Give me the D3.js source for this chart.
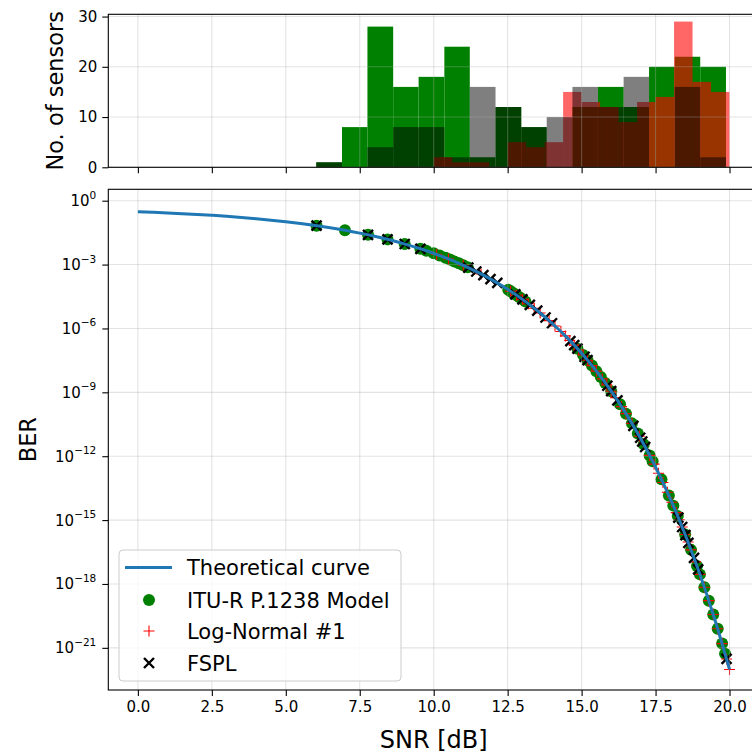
<!DOCTYPE html>
<html>
<head>
<meta charset="utf-8">
<script src="https://cdn.jsdelivr.net/npm/d3@7"></script>
<style>
  body { margin: 0; background: #fff; }
  text { font-family: "DejaVu Sans", sans-serif; fill: #000; }
</style>
</head>
<body>
<svg id="chart" width="752" height="756"></svg>
<script>
// ---------------- data ----------------
// Theoretical BER curve, sampled every 0.5 dB (log10 of BER)
const theorySnr = [0, 0.5, 1, 1.5, 2, 2.5, 3, 3.5, 4, 4.5, 5, 5.5, 6, 6.5, 7, 7.5, 8, 8.5, 9, 9.5,
  10, 10.5, 11, 11.5, 12, 12.5, 13, 13.5, 14, 14.5, 15, 15.5, 16, 16.5, 17, 17.5, 18, 18.5, 19, 19.5, 20];
const theoryLogBer = [-0.518, -0.545, -0.574, -0.608, -0.645, -0.687, -0.734, -0.787, -0.846, -0.913,
  -0.988, -1.071, -1.166, -1.271, -1.389, -1.522, -1.671, -1.838, -2.026, -2.236,
  -2.472, -2.737, -3.035, -3.368, -3.743, -4.163, -4.634, -5.162, -5.756, -6.421,
  -7.168, -8.006, -8.946, -10.001, -11.184, -12.512, -14.002, -15.674, -17.550, -19.655, -22.015];

// ITU-R P.1238 sensors: SNR [dB] and log10(BER)
const ituSnr = [6.04, 7.0, 7.78, 8.44, 9.02, 9.55, 9.75, 10.0, 10.2, 10.4, 10.55, 10.7, 10.85, 11.0, 11.15,
  12.52, 12.6, 12.7, 12.8, 12.9, 13.0, 13.1, 14.86, 15.05, 15.2, 15.35, 15.5, 15.65, 15.8, 16.0,
  16.3, 16.5, 16.7, 16.9, 17.1, 17.3, 17.4, 17.7, 17.95, 18.1, 18.25, 18.5, 18.7, 18.9, 19.0,
  19.15, 19.3, 19.45, 19.6, 19.75, 19.85];
const ituLogBer = [-1.174, -1.389, -1.603, -1.817, -2.034, -2.259, -2.351, -2.472, -2.575, -2.682, -2.766, -2.852, -2.942, -3.035, -3.131,
  -4.180, -4.253, -4.345, -4.439, -4.535, -4.634, -4.735, -6.950, -7.247, -7.491, -7.744, -8.006, -8.276, -8.557, -8.946,
  -9.564, -10.001, -10.458, -10.937, -11.438, -11.963, -12.234, -13.088, -13.845, -14.321, -14.814, -15.674, -16.399, -17.157, -17.550,
  -18.156, -18.784, -19.433, -20.105, -20.801, -21.279];

// Log-Normal #1 sensors
const logNormalSnr = [10.1, 10.5, 11.0, 11.6, 12.6, 12.8, 13.0, 13.2, 13.4, 13.6, 13.9, 14.1, 14.3, 14.45, 14.6,
  14.75, 14.9, 15.05, 15.2, 15.35, 15.5, 15.7, 15.85, 16.0, 16.15, 16.35, 16.5, 16.7, 16.95, 17.1,
  17.3, 17.45, 17.6, 17.75, 17.9, 18.05, 18.2, 18.3, 18.4, 18.5, 18.6, 18.7, 18.85, 19.0, 19.15,
  19.3, 19.45, 19.6, 19.75, 19.9, 20.0];
const logNormalLogBer = [-2.523, -2.737, -3.035, -3.440, -4.253, -4.439, -4.634, -4.838, -5.052, -5.276, -5.631, -5.883, -6.146, -6.351, -6.564,
  -6.784, -7.012, -7.247, -7.491, -7.744, -8.006, -8.369, -8.652, -8.946, -9.250, -9.671, -10.001, -10.458, -11.060, -11.438,
  -11.963, -12.372, -12.797, -13.236, -13.690, -14.161, -14.648, -14.982, -15.324, -15.674, -16.032, -16.399, -16.964, -17.550, -18.156,
  -18.784, -19.433, -20.105, -20.801, -21.522, -22.015];

// FSPL sensors
const fsplSnr = [6.04, 7.78, 8.44, 9.02, 9.55, 11.17, 11.44, 11.68, 11.92, 12.15, 12.76, 13.0, 13.25, 13.5, 13.78,
  14.0, 14.62, 14.75, 14.86, 15.1, 15.2, 15.87, 16.0, 16.21, 16.75, 16.98, 17.05, 17.15, 18.27, 18.4,
  18.51, 18.61, 18.8, 18.94, 19.9];
const fsplLogBer = [-1.174, -1.603, -1.817, -2.034, -2.259, -3.144, -3.326, -3.498, -3.680, -3.864, -4.401, -4.634, -4.890, -5.162, -5.486,
  -5.756, -6.592, -6.784, -6.950, -7.328, -7.491, -8.691, -8.946, -9.374, -10.575, -11.134, -11.310, -11.567, -14.881, -15.324,
  -15.709, -16.068, -16.774, -17.313, -21.522];

// Histograms of sensor SNR
const ituFsplBinEdges = [6.03, 6.90, 7.76, 8.63, 9.49, 10.36, 11.22, 12.09, 12.96, 13.82, 14.69, 15.55, 16.42, 17.28, 18.15, 19.01, 19.88];
const ituCounts  = [1, 8, 28, 16, 18, 24, 2, 12, 8, 0, 12, 16, 12, 20, 22, 20];
const fsplCounts = [1, 0, 4, 8, 8, 2, 16, 12, 8, 10, 16, 12, 18, 0, 16, 2];
const logNormalBinEdges = [10.0, 10.625, 11.25, 11.875, 12.5, 13.125, 13.75, 14.375, 15.0, 15.625, 16.25, 16.875, 17.5, 18.125, 18.75, 19.375, 20.0];
const logNormalCounts = [2, 1, 1, 0, 5, 4, 5, 15, 13, 12, 9, 13, 14, 29, 17, 15];

const xTicks = [0, 2.5, 5, 7.5, 10, 12.5, 15, 17.5, 20];
const histTicks = [0, 10, 20, 30];
const berTickExps = [0, -3, -6, -9, -12, -15, -18, -21];

// ---------------- layout ----------------
const svg = d3.select("#chart");
const X0 = 108.3, X1 = 759.1;
const histTop = 14.3, histBottom = 167.3;
const berTop = 189.3, berBottom = 690;

const x = d3.scaleLinear().domain([-1, 21]).range([X0, X1]);
const yHist = d3.scaleLinear().domain([0, 30.45]).range([histBottom, histTop]);
const yBer = d3.scaleLog().domain([Math.pow(10, -22.98), Math.pow(10, 0.535)]).range([berBottom, berTop]);

const GRID = { stroke: "#b0b0b0", opacity: 0.35, width: 1.1 };
const TICK_FONT = 15;
const LABEL_FONT = 22.5;

const defs = svg.append("defs");
defs.append("clipPath").attr("id", "clipHist").append("rect")
  .attr("x", X0).attr("y", histTop).attr("width", X1 - X0).attr("height", histBottom - histTop);
defs.append("clipPath").attr("id", "clipBer").append("rect")
  .attr("x", X0).attr("y", berTop).attr("width", X1 - X0).attr("height", berBottom - berTop);

// ---------------- histogram panel ----------------
const gHist = svg.append("g").attr("clip-path", "url(#clipHist)");

function drawHist(edges, counts, fill, opacity) {
  const bins = counts.map((c, i) => ({ x0: edges[i], x1: edges[i + 1], c })).filter(d => d.c > 0);
  gHist.append("g").selectAll("rect").data(bins).join("rect")
    .attr("x", d => x(d.x0))
    .attr("width", d => x(d.x1) - x(d.x0))
    .attr("y", d => yHist(d.c))
    .attr("height", d => yHist(0) - yHist(d.c))
    .attr("fill", fill)
    .attr("fill-opacity", opacity);
}
drawHist(ituFsplBinEdges, ituCounts, "#008000", 1);
drawHist(logNormalBinEdges, logNormalCounts, "#ff0000", 0.6);
drawHist(ituFsplBinEdges, fsplCounts, "#000000", 0.5);

// grid over the bars
gHist.append("g").selectAll("line").data(xTicks).join("line")
  .attr("x1", d => x(d)).attr("x2", d => x(d)).attr("y1", histTop).attr("y2", histBottom)
  .attr("stroke", GRID.stroke).attr("stroke-opacity", GRID.opacity).attr("stroke-width", GRID.width);
gHist.append("g").selectAll("line").data(histTicks).join("line")
  .attr("x1", X0).attr("x2", X1).attr("y1", d => yHist(d)).attr("y2", d => yHist(d))
  .attr("stroke", GRID.stroke).attr("stroke-opacity", GRID.opacity).attr("stroke-width", GRID.width);

// axes of the histogram panel
const axHistX = svg.append("g").attr("transform", `translate(0,${histBottom})`)
  .call(d3.axisBottom(x).tickValues(xTicks).tickSize(6).tickFormat(""));
const axHistY = svg.append("g").attr("transform", `translate(${X0},0)`)
  .call(d3.axisLeft(yHist).tickValues(histTicks).tickSize(6).tickPadding(5).tickFormat(d3.format("d")));
[axHistX, axHistY].forEach(a => {
  a.select(".domain").remove();
  a.selectAll("line").attr("stroke", "#000").attr("stroke-width", 1.1);
  a.selectAll("text").attr("font-size", TICK_FONT).attr("font-family", "DejaVu Sans").attr("fill", "#000");
});

// ---------------- BER panel ----------------
const gBer = svg.append("g").attr("clip-path", "url(#clipBer)");

// scatter markers (drawn below the grid, like matplotlib collections)
const itu = ituSnr.map((s, i) => ({ s, e: ituLogBer[i] }));
const logn = logNormalSnr.map((s, i) => ({ s, e: logNormalLogBer[i] }));
const fspl = fsplSnr.map((s, i) => ({ s, e: fsplLogBer[i] }));
const py = d => yBer(Math.pow(10, d.e));

gBer.append("g").selectAll("circle").data(itu).join("circle")
  .attr("cx", d => x(d.s)).attr("cy", py).attr("r", 6).attr("fill", "#008000");

const PLUS = 5.5;
gBer.append("g").selectAll("path").data(logn).join("path")
  .attr("d", d => {
    const cx = x(d.s), cy = py(d);
    return `M${cx - PLUS},${cy}H${cx + PLUS}M${cx},${cy - PLUS}V${cy + PLUS}`;
  })
  .attr("stroke", "#ff0000").attr("stroke-width", 1.1).attr("fill", "none");

const CROSS = 5;
gBer.append("g").selectAll("path").data(fspl).join("path")
  .attr("d", d => {
    const cx = x(d.s), cy = py(d);
    return `M${cx - CROSS},${cy - CROSS}L${cx + CROSS},${cy + CROSS}M${cx - CROSS},${cy + CROSS}L${cx + CROSS},${cy - CROSS}`;
  })
  .attr("stroke", "#000").attr("stroke-width", 2.4).attr("fill", "none");

// grid
gBer.append("g").selectAll("line").data(xTicks).join("line")
  .attr("x1", d => x(d)).attr("x2", d => x(d)).attr("y1", berTop).attr("y2", berBottom)
  .attr("stroke", GRID.stroke).attr("stroke-opacity", GRID.opacity).attr("stroke-width", GRID.width);
gBer.append("g").selectAll("line").data(berTickExps).join("line")
  .attr("x1", X0).attr("x2", X1).attr("y1", d => yBer(Math.pow(10, d))).attr("y2", d => yBer(Math.pow(10, d)))
  .attr("stroke", GRID.stroke).attr("stroke-opacity", GRID.opacity).attr("stroke-width", GRID.width);

// theoretical curve on top
const theory = theorySnr.map((s, i) => ({ s, e: theoryLogBer[i] }));
gBer.append("path").datum(theory)
  .attr("d", d3.line().x(d => x(d.s)).y(py).curve(d3.curveMonotoneX))
  .attr("fill", "none").attr("stroke", "#1f77b4").attr("stroke-width", 3);

// axes of the BER panel
const axBerX = svg.append("g").attr("transform", `translate(0,${berBottom})`)
  .call(d3.axisBottom(x).tickValues(xTicks).tickSize(6).tickPadding(5).tickFormat(d3.format(".1f")));
axBerX.select(".domain").remove();
axBerX.selectAll("line").attr("stroke", "#000").attr("stroke-width", 1.1);
axBerX.selectAll("text").attr("font-size", TICK_FONT).attr("font-family", "DejaVu Sans").attr("fill", "#000");

const axBerY = svg.append("g").attr("transform", `translate(${X0},0)`)
  .call(d3.axisLeft(yBer).tickValues(berTickExps.map(e => Math.pow(10, e))).tickSize(6).tickFormat(""));
axBerY.select(".domain").remove();
axBerY.selectAll("line").attr("stroke", "#000").attr("stroke-width", 1.1);
const yLab = svg.append("g").selectAll("text").data(berTickExps).join("text")
  .attr("x", X0 - 12).attr("y", d => yBer(Math.pow(10, d)) + 5.5)
  .attr("text-anchor", "end").attr("font-size", TICK_FONT);
yLab.append("tspan").text("10");
yLab.append("tspan").attr("dy", -7.5).attr("font-size", 10.5)
  .text(d => d === 0 ? "0" : "\u2212" + Math.abs(d));

// spines
function spines(y0, y1) {
  const g = svg.append("g").attr("stroke", "#000").attr("stroke-width", 1.1).attr("fill", "none");
  g.append("rect").attr("x", X0).attr("y", y0).attr("width", X1 - X0).attr("height", y1 - y0);
}
spines(histTop, histBottom);
spines(berTop, berBottom);

// axis labels
svg.append("text").attr("transform", `translate(63,${(histTop + histBottom) / 2}) rotate(-90)`)
  .attr("text-anchor", "middle").attr("font-size", LABEL_FONT).text("No. of sensors");
svg.append("text").attr("transform", `translate(36,${(berTop + berBottom) / 2}) rotate(-90)`)
  .attr("text-anchor", "middle").attr("font-size", LABEL_FONT).text("BER");
svg.append("text").attr("x", (X0 + X1) / 2).attr("y", 748)
  .attr("text-anchor", "middle").attr("font-size", 24).text("SNR [dB]");

// legend
const lg = svg.append("g");
lg.append("rect").attr("x", 119).attr("y", 550).attr("width", 282).attr("height", 131).attr("rx", 4)
  .attr("fill", "#fff").attr("fill-opacity", 0.8).attr("stroke", "#cccccc").attr("stroke-width", 1);
const legendItems = ["Theoretical curve", "ITU-R P.1238 Model", "Log-Normal #1", "FSPL"];
const rowY = [567.5, 600, 631, 663];
lg.append("line").attr("x1", 125).attr("x2", 172).attr("y1", rowY[0]).attr("y2", rowY[0])
  .attr("stroke", "#1f77b4").attr("stroke-width", 3);
lg.append("circle").attr("cx", 149).attr("cy", rowY[1]).attr("r", 6).attr("fill", "#008000");
lg.append("path").attr("d", `M${149 - PLUS},${rowY[2]}H${149 + PLUS}M149,${rowY[2] - PLUS}V${rowY[2] + PLUS}`)
  .attr("stroke", "#ff0000").attr("stroke-width", 1.1);
lg.append("path").attr("d", `M${149 - CROSS},${rowY[3] - CROSS}L${149 + CROSS},${rowY[3] + CROSS}M${149 - CROSS},${rowY[3] + CROSS}L${149 + CROSS},${rowY[3] - CROSS}`)
  .attr("stroke", "#000").attr("stroke-width", 2.4);
lg.selectAll("text.item").data(legendItems).join("text").attr("class", "item")
  .attr("x", 187).attr("y", (d, i) => rowY[i] + 7.5).attr("font-size", 21).text(d => d);
</script>
</body>
</html>
